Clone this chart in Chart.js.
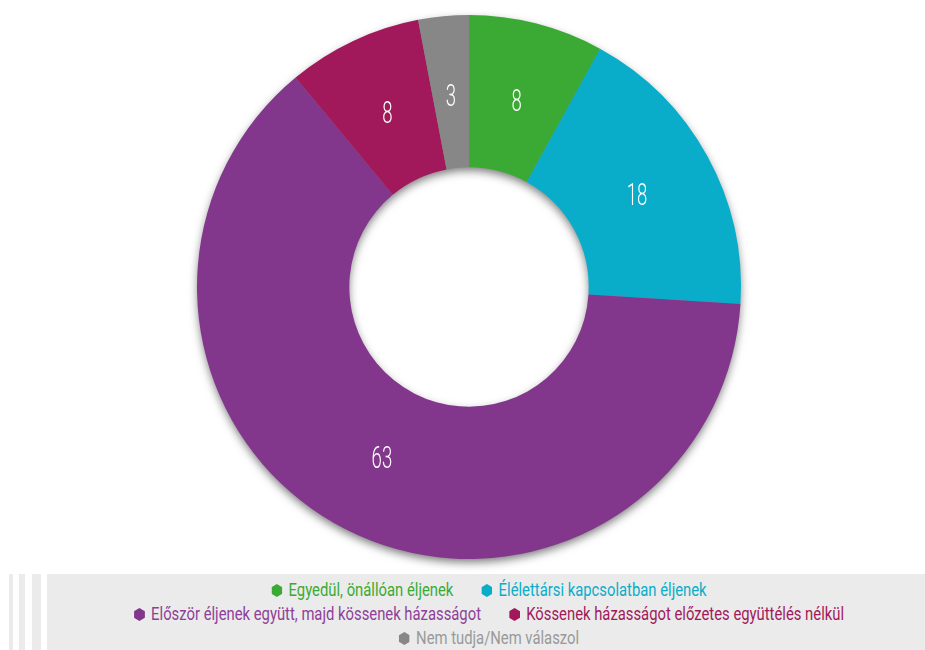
<!DOCTYPE html>
<html>
<head>
<meta charset="utf-8">
<script src="https://cdn.jsdelivr.net/npm/chart.js@4.4.0/dist/chart.umd.min.js"></script>
<style>
  body { margin: 0; width: 925px; height: 650px; overflow: hidden; background: #fff; font-family: Roboto, "DejaVu Sans", sans-serif; position: relative; }
  #wrap { position: absolute; left: 0; top: 0; width: 925px; height: 573px; }
  .stripe { position: absolute; top: 574px; height: 76px; background: #ebebeb; }
  #legendBox { position: absolute; left: 47px; top: 574px; width: 878px; height: 76px; background: #ebebeb; }
  #legend { position: absolute; left: 0; top: 578px; width: 978px; text-align: center; font-size: 19px; line-height: 24px; transform: scaleX(0.78); transform-origin: 50% 0; }
  .item { display: inline-block; margin: 0 18px; white-space: nowrap; }
  .hex { display: inline-block; width: 14px; height: 13px; margin-right: 8px; vertical-align: -1px; clip-path: polygon(50% 0, 100% 25%, 100% 75%, 50% 100%, 0 75%, 0 25%); }
</style>
</head>
<body>
<div id="wrap"><canvas id="chart"></canvas></div>
<div class="stripe" style="left:9px;width:4px"></div>
<div class="stripe" style="left:19px;width:6px"></div>
<div class="stripe" style="left:32px;width:9px"></div>
<div id="legendBox"></div>
<div id="legend"></div>
<script>
var labels = ['Egyedül, önállóan éljenek', 'Élélettársi kapcsolatban éljenek', 'Először éljenek együtt, majd kössenek házasságot', 'Kössenek házasságot előzetes együttélés nélkül', 'Nem tudja/Nem válaszol'];
var values = [8, 18, 63, 8, 3];
var colors = ['#3aaa35', '#09adc9', '#82368c', '#a1195a', '#878787'];
var textColors = ['#3aaa35', '#09adc9', '#8e3f98', '#a1195a', '#999999'];
var legendRows = [[0, 1], [2, 3], [4]];

var html = '';
for (var r = 0; r < legendRows.length; r++) {
  html += '<div>';
  for (var j = 0; j < legendRows[r].length; j++) {
    var i = legendRows[r][j];
    html += '<span class="item" style="color:' + textColors[i] + '"><span class="hex" style="background:' + colors[i] + '"></span>' + labels[i] + '</span>';
  }
  html += '</div>';
}
document.getElementById('legend').innerHTML = html;

var ringShadow = {
  id: 'ringShadow',
  beforeDatasetsDraw: function(chart) {
    var arc = chart.getDatasetMeta(0).data[0];
    if (!arc) return;
    var ctx = chart.ctx;
    ctx.save();
    ctx.shadowColor = 'rgba(0,0,0,0.55)';
    ctx.shadowBlur = 10;
    ctx.shadowOffsetX = 0;
    ctx.shadowOffsetY = 4;
    ctx.fillStyle = '#888';
    ctx.beginPath();
    ctx.arc(arc.x, arc.y, arc.outerRadius - 1, 0, Math.PI * 2);
    ctx.arc(arc.x, arc.y, arc.innerRadius + 1, Math.PI * 2, 0, true);
    ctx.fill();
    ctx.restore();
  }
};

var sliceLabels = {
  id: 'sliceLabels',
  afterDatasetsDraw: function(chart) {
    var ctx = chart.ctx;
    var meta = chart.getDatasetMeta(0);
    ctx.save();
    ctx.fillStyle = '#fff';
    ctx.font = '300 32px Roboto, "DejaVu Sans", sans-serif';
    ctx.textAlign = 'center';
    ctx.textBaseline = 'middle';
    meta.data.forEach(function(a, k) {
      var mid = (a.startAngle + a.endAngle) / 2;
      var rad = (a.innerRadius + a.outerRadius) / 2 - 4;
      var x = a.x + Math.cos(mid) * rad;
      var y = a.y + Math.sin(mid) * rad + 2;
      ctx.save();
      ctx.translate(x, y);
      ctx.scale(0.58, 1);
      ctx.fillText(String(values[k]), 0, 0);
      ctx.restore();
    });
    ctx.restore();
  }
};

new Chart(document.getElementById('chart'), {
  type: 'doughnut',
  data: {
    labels: labels,
    datasets: [{ data: values, backgroundColor: colors, borderWidth: 0 }]
  },
  options: {
    responsive: true,
    maintainAspectRatio: false,
    animation: false,
    cutout: '44%',
    layout: { padding: { left: 197, right: 184, top: 15, bottom: 14 } },
    plugins: { legend: { display: false }, tooltip: { enabled: false } }
  },
  plugins: [ringShadow, sliceLabels]
});
</script>
</body>
</html>
